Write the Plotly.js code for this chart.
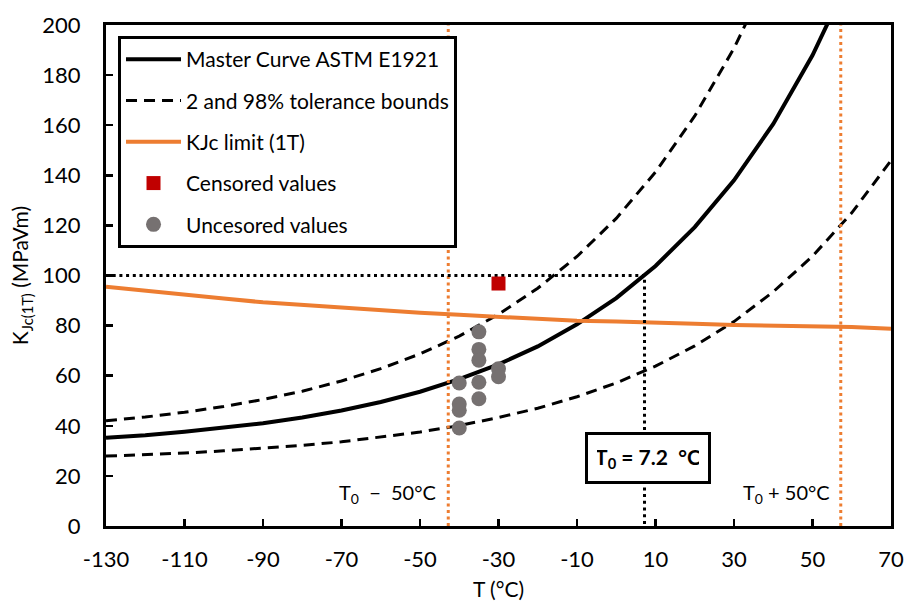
<!DOCTYPE html>
<html>
<head>
<meta charset="utf-8">
<script src="https://cdn.plot.ly/plotly-3.0.1.min.js"></script>
<style>html,body{margin:0;padding:0;background:#fff;} #chart{width:910px;height:601px;}</style>
</head>
<body>
<div id="chart"></div>
<script>
// Temperatures (°C) for the curves
const temps = [-130,-120,-110,-100,-90,-80,-70,-60,-50,-40,-30,-20,-10,0,10,20,30,40,50,60,70];
// Master curve (median) K_Jc(1T), MPa√m
const masterCurve = [35.2,36.2,37.6,39.1,41.0,43.3,46.1,49.5,53.6,58.6,64.5,71.7,80.5,91.0,103.8,119.3,138.0,160.5,187.9,220.9,260.8];
// 98% tolerance bound
const upperBound = [42.0,43.5,45.4,47.7,50.5,53.8,57.9,62.8,68.7,75.8,84.5,94.9,107.6,122.8,141.3,163.7,190.7,223.4,262.0,308.0,363.0];
// 2% tolerance bound
const lowerBound = [27.9,28.5,29.1,30.0,31.0,32.2,33.6,35.4,37.5,40.1,43.3,47.0,51.6,57.1,63.8,71.9,81.6,93.5,107.7,125.0,145.9];
// KJc limit (1T)
const kjcLimit = [95.5,93.8,92.5,90.8,89.3,88.2,87.2,86.0,85.1,84.3,83.5,82.6,81.9,81.6,81.3,80.7,80.2,80.0,79.7,79.4,78.7];

// Test data
const censoredT = [-30];
const censoredK = [96.8];
const uncensoredT = [-40,-40,-40,-40,-35,-35,-35,-35,-35,-30,-30];
const uncensoredK = [57.1,48.7,46.2,39.1,77.5,70.5,66.2,57.4,50.8,62.8,59.6];

// Axis ticks
const xTickVals = [-130,-110,-90,-70,-50,-30,-10,10,30,50,70];
const xTickText = ['-130','-110','-90','-70','-50','-30','-10','10','30','50','70'];
const yTickVals = [0,20,40,60,80,100,120,140,160,180,200];

// Reference temperature
const T0 = 7.2;
const K100 = 100;
const tLow = T0 - 50;
const tHigh = T0 + 50;

const FONT = "Lato, 'Open Sans', sans-serif";
const ORANGE = '#ED7D31';

const traces = [
  {x: temps, y: masterCurve, mode: 'lines', name: 'Master Curve ASTM E1921',
   line: {color: '#000', width: 4}, legendgroup: 'g1'},
  {x: temps, y: upperBound, mode: 'lines', name: '2 and 98% tolerance bounds',
   line: {color: '#000', width: 3, dash: '11px,7px'}, legendgroup: 'g2'},
  {x: temps, y: lowerBound, mode: 'lines', name: '2 and 98% tolerance bounds',
   line: {color: '#000', width: 3, dash: '11px,7px'}, legendgroup: 'g2', showlegend: false},
  {x: temps, y: kjcLimit, mode: 'lines', name: 'KJc limit (1T)',
   line: {color: ORANGE, width: 4}, legendgroup: 'g3'},
  {x: [tLow, tLow], y: [0, 200], mode: 'lines', showlegend: false, hoverinfo: 'skip',
   line: {color: ORANGE, width: 3, dash: '3px,3.5px'}},
  {x: [tHigh, tHigh], y: [0, 200], mode: 'lines', showlegend: false, hoverinfo: 'skip',
   line: {color: ORANGE, width: 3, dash: '3px,3.5px'}},
  {x: [temps[0], T0, T0], y: [K100, K100, 0], mode: 'lines', showlegend: false, hoverinfo: 'skip',
   line: {color: '#000', width: 3, dash: '3px,3.7px'}},
  {x: censoredT, y: censoredK, mode: 'markers', name: 'Censored values',
   marker: {symbol: 'square', color: '#C00000', size: 14}, legendgroup: 'g4'},
  {x: uncensoredT, y: uncensoredK, mode: 'markers', name: 'Uncesored values',
   marker: {symbol: 'circle', color: '#767171', size: 15}, legendgroup: 'g5'}
];

const layout = {
  width: 910, height: 601,
  margin: {l: 106, r: 19, t: 25, b: 75},
  paper_bgcolor: '#fff', plot_bgcolor: '#fff',
  font: {family: FONT, size: 21, color: '#000'},
  showlegend: true,
  legend: {
    x: 0.0153, y: 0.978, xanchor: 'left', yanchor: 'top',
    bgcolor: '#fff', bordercolor: '#000', borderwidth: 3,
    font: {family: FONT, size: 21, color: '#000'},
    tracegroupgap: 11, itemwidth: 55
  },
  xaxis: {
    range: [-130, 70], tickmode: 'array', tickvals: xTickVals, ticktext: xTickText,
    showgrid: false, zeroline: false,
    showline: true, linecolor: '#000', linewidth: 3, mirror: true,
    ticks: 'inside', ticklen: 7, tickwidth: 2.5, tickcolor: '#000',
    ticklabelstandoff: 12,
    tickfont: {family: FONT, size: 22, color: '#000'},
    title: {text: 'T (°C)', font: {family: FONT, size: 21, color: '#000'}, standoff: 13}
  },
  yaxis: {
    range: [0, 200], tickmode: 'array', tickvals: yTickVals,
    showgrid: false, zeroline: false,
    showline: true, linecolor: '#000', linewidth: 3, mirror: true,
    ticks: 'inside', ticklen: 7, tickwidth: 2.5, tickcolor: '#000',
    ticklabelstandoff: 18,
    tickfont: {family: FONT, size: 22, color: '#000'},
    title: {text: 'K<sub>Jc(1T)</sub> (MPaVm)', font: {family: FONT, size: 21, color: '#000'}, standoff: 8}
  },
  annotations: [
    {x: tLow, y: 13, xref: 'x', yref: 'y', xanchor: 'right', yanchor: 'middle', xshift: -10,
     text: 'T<sub>0</sub>  −  50°C', showarrow: false, font: {family: FONT, size: 20, color: '#000'}},
    {x: tHigh, y: 13, xref: 'x', yref: 'y', xanchor: 'right', yanchor: 'middle', xshift: -9,
     text: 'T<sub>0</sub> + 50°C', showarrow: false, font: {family: FONT, size: 20, color: '#000'}},
    {x: T0, y: 27, xref: 'x', yref: 'y', xanchor: 'center', yanchor: 'middle', xshift: 3,
     text: '<b>T<sub>0</sub> = 7.2  °C</b>', showarrow: false,
     font: {family: FONT, size: 21, color: '#000'},
     bgcolor: '#fff', bordercolor: '#000', borderwidth: 3, borderpad: 9, width: 102}
  ]
};

Plotly.newPlot('chart', traces, layout, {displayModeBar: false, staticPlot: true});
</script>
</body>
</html>
